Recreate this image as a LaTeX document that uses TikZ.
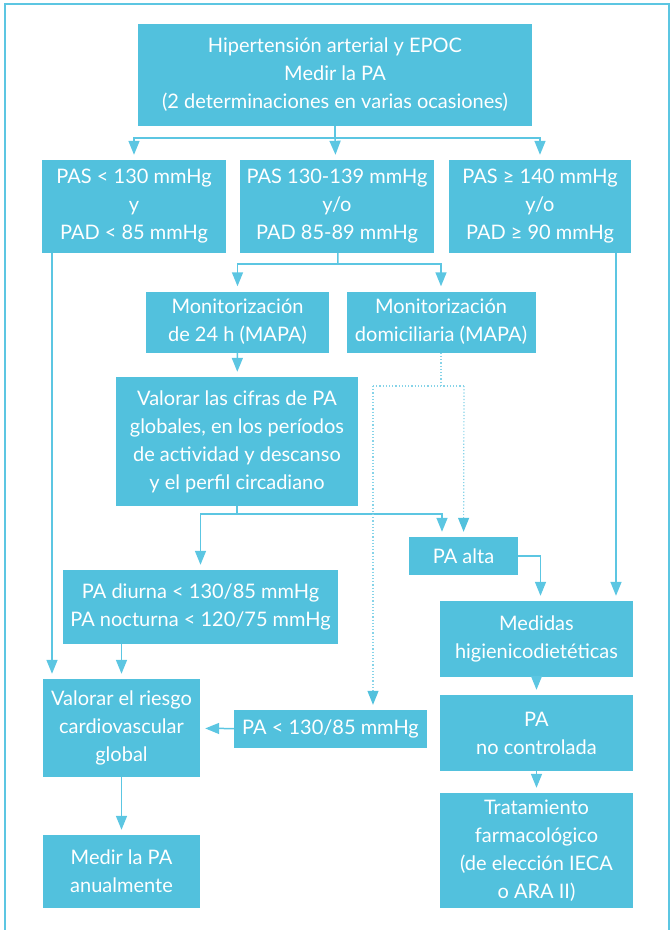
\documentclass[tikz,border=0pt]{standalone}
\usepackage{fontspec}
\setmainfont{Lato}
\usetikzlibrary{positioning,arrows.meta}
\definecolor{cian}{HTML}{52C1DD}
\definecolor{cianlinea}{HTML}{5CC6E2}
\definecolor{cianclaro}{HTML}{86D3E8}

\begin{document}
\begin{tikzpicture}[x=1pt, y=-1pt,
    caja/.style={fill=cian, text=white, align=center, inner sep=0pt,
        font=\fontsize{20}{28}\selectfont},
    linea/.style={draw=cianlinea, line width=1.5pt},
    flecha/.style={linea, -{Triangle[width=11pt,length=14pt]}, shorten >=5pt},
    punteado/.style={draw=cianclaro, line width=1.2pt, dotted},
    puntaflecha/.style={-{Triangle[width=11pt,length=14pt,color=cian]}, shorten >=5pt},
    ]
\useasboundingbox (0,0) rectangle (670,930);
\draw[linea] (5,930) -- (5,4) -- (669,4) -- (669,930);

\node[caja, minimum width=394, minimum height=102] (inicio) at (335,75)
    {Hipertensión arterial y EPOC\\Medir la PA\\(2 determinaciones en varias ocasiones)};
\node[caja, minimum width=184, minimum height=93] (normal) at (134,206.5)
    {PAS < 130 mmHg\\y\\PAD < 85 mmHg};
\node[caja, minimum width=194, minimum height=93] (limite) at (337,206.5)
    {PAS 130-139 mmHg\\y/o\\PAD 85-89 mmHg};
\node[caja, minimum width=182, minimum height=93] (alta140) at (540,206.5)
    {PAS ≥ 140 mmHg\\y/o\\PAD ≥ 90 mmHg};
\node[caja, minimum width=183, minimum height=61] (mapa) at (237.5,322)
    {Monitorización\\de 24 h (MAPA)};
\node[caja, minimum width=189, minimum height=61] (ampa) at (441,322)
    {Monitorización\\domiciliaria (MAPA)};
\node[caja, minimum width=242, minimum height=129] (cifras) at (237,441.5)
    {Valorar las cifras de PA\\globales, en los períodos\\de actividad y descanso\\y el perfil circadiano};
\node[caja, minimum width=109, minimum height=38] (paalta) at (463.5,556)
    {PA alta};
\node[caja, minimum width=275, minimum height=74] (diurna) at (200.5,607)
    {PA diurna < 130/85 mmHg\\PA nocturna < 120/75 mmHg};
\node[caja, minimum width=193, minimum height=76] (medidas) at (536.5,639)
    {Medidas\\higienicodietéticas};
\node[caja, minimum width=157, minimum height=98] (riesgo) at (121.5,728)
    {Valorar el riesgo\\cardiovascular\\global};
\node[caja, minimum width=193, minimum height=38] (controlada) at (330.5,729)
    {PA < 130/85 mmHg};
\node[caja, minimum width=193, minimum height=76] (nocontrol) at (536.5,733)
    {PA\\no controlada};
\node[caja, minimum width=193, minimum height=115] (farmaco) at (536.5,850.5)
    {Tratamiento\\farmacológico\\(de elección IECA\\o ARA II)};
\node[caja, minimum width=157, minimum height=73] (anual) at (121.5,871.5)
    {Medir la PA\\anualmente};

\coordinate (r1) at (335,138);
\coordinate (r2) at (338,264);
\coordinate (r3) at (237,514);
\coordinate (d1) at (373,386);
\coordinate (d2) at (464,386);

\draw[linea] (inicio) -- (r1);
\draw[flecha] (r1) -| (normal);
\draw[flecha] (r1) -- (limite);
\draw[flecha] (r1) -| (alta140);
\draw[linea] (limite) -- (r2);
\draw[flecha] (r2) -| (mapa);
\draw[flecha] (r2) -| (ampa);
\draw[flecha] (mapa) -- (cifras);
\draw[linea] (cifras) -- (r3);
\draw[flecha] (r3) -| (diurna);
\draw[flecha] (r3) -| ([xshift=-21.5]paalta.north);

% seguimiento domiciliario
\draw[punteado] (ampa) -- (ampa |- d1);
\draw[punteado] (d1) -- (d2);
\draw[punteado, puntaflecha] (d2) -- (paalta);
\draw[punteado, puntaflecha] (d1) -- (d1 |- controlada.north);

\draw[flecha] (paalta) -| ([xshift=4]medidas.north);
\draw[flecha] ([xshift=76]alta140.south) -- ([xshift=76]alta140.south |- medidas.north);
\draw[flecha] ([xshift=-82]normal.south) -- ([xshift=-82]normal.south |- riesgo.north);
\draw[flecha] (diurna.south -| riesgo) -- (riesgo);
\draw[flecha] (controlada) -- (riesgo);
\draw[flecha] (medidas) -- (nocontrol);
\draw[flecha] (nocontrol) -- (farmaco);
\draw[flecha] (riesgo) -- (anual);
\end{tikzpicture}
\end{document}
